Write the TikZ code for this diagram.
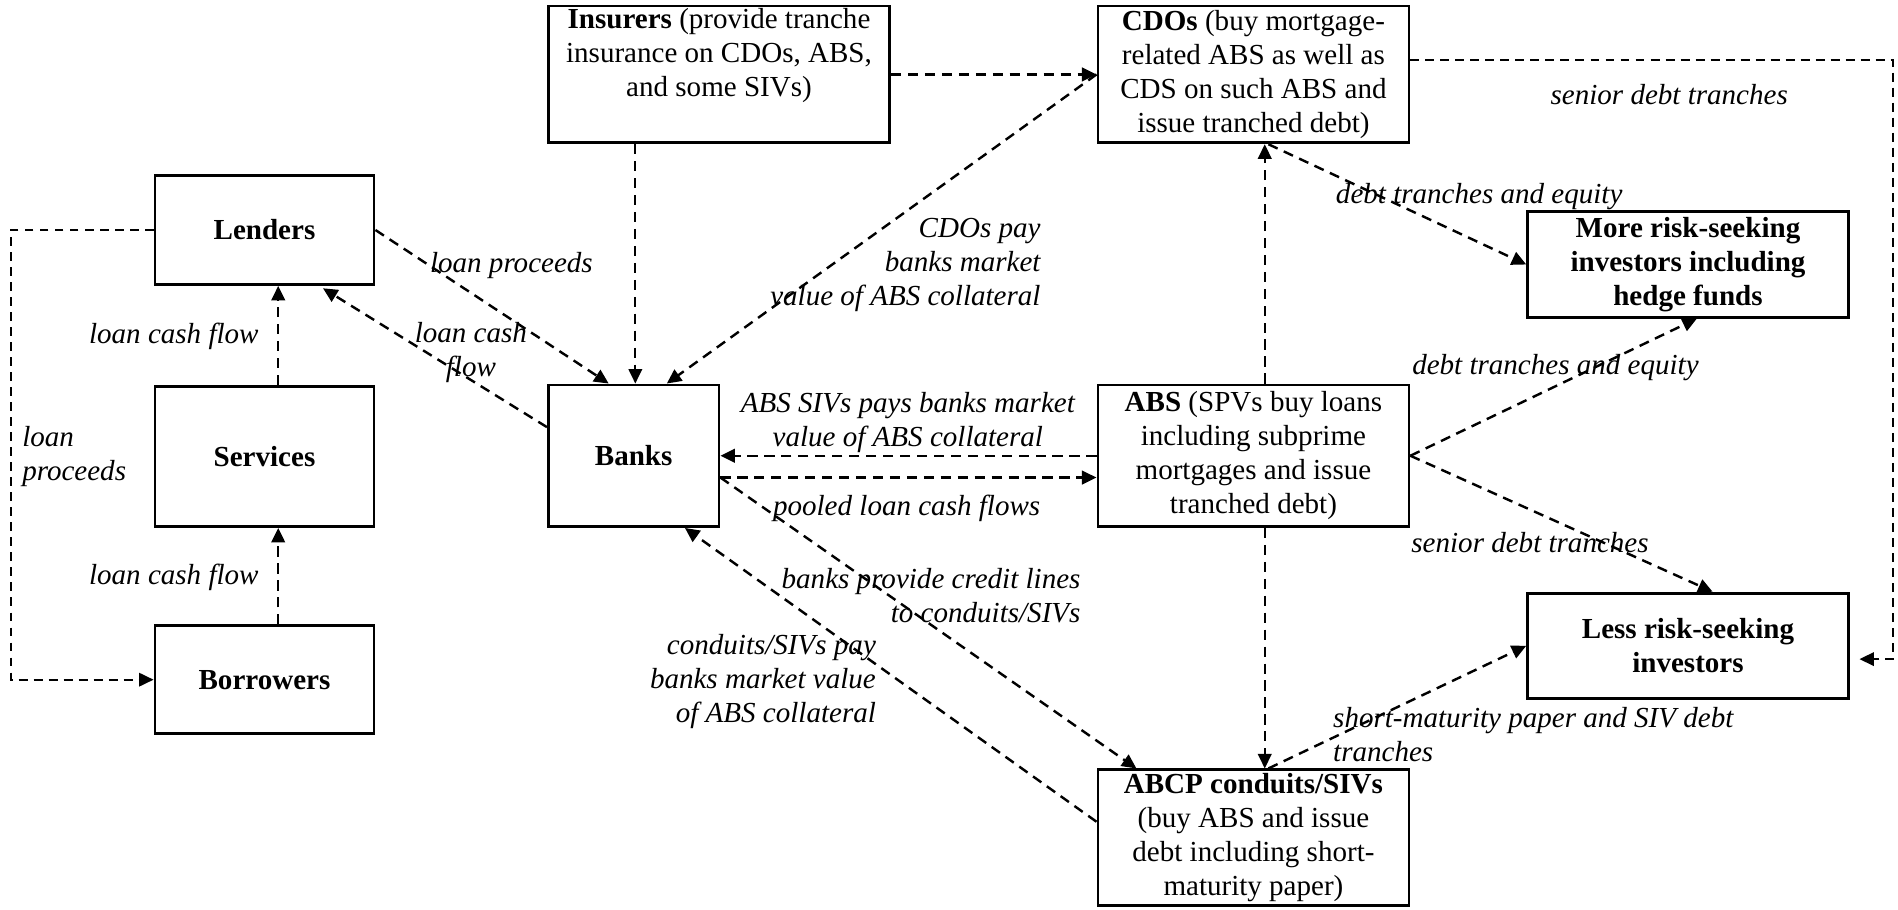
\documentclass[tikz,border=0pt]{standalone}
\usepackage{fontspec}
\setmainfont{Liberation Serif}
\usetikzlibrary{arrows.meta,calc}
\begin{document}
\begin{tikzpicture}[x=0.5pt,y=-0.5pt,
  boxnode/.style={draw, line width=1.15pt, inner sep=0pt, align=center, font=\fontsize{12}{14}\selectfont},
  labnode/.style={inner sep=0pt, font=\fontsize{12}{14}\selectfont\itshape},
  thk/.style={line width=1pt, dash pattern=on 4.2pt off 2.8pt, -{Triangle[length=6pt,width=5.6pt]}},
  thn/.style={line width=0.8pt, dash pattern=on 4.2pt off 2.8pt, -{Triangle[length=6pt,width=5.6pt]}},
  loopline/.style={line width=0.75pt, dash pattern=on 3.7pt off 2.5pt, -{Triangle[length=6pt,width=5.6pt]}}]
\useasboundingbox (0,0) rectangle (1568,751);

% boxes
\node[boxnode, minimum width=90.5pt, minimum height=45pt] (len) at (218.5,190) {\textbf{Lenders}};
\node[boxnode, minimum width=90.5pt, minimum height=58pt] (ser) at (218.5,377) {\textbf{Services}};
\node[boxnode, minimum width=90.5pt, minimum height=44.5pt] (bor) at (218.5,561.5) {\textbf{Borrowers}};
\node[boxnode, minimum width=141pt, minimum height=56.5pt] (ins) at (594,61.5) {\textbf{Insurers} (provide tranche\\insurance on CDOs, ABS,\\and some SIVs)\\\strut};
\node[boxnode, minimum width=128.5pt, minimum height=56.5pt] (cdo) at (1035.5,61.5) {\textbf{CDOs} (buy mortgage-\\related ABS as well as\\CDS on such ABS and\\issue tranched debt)};
\node[boxnode, minimum width=70.5pt, minimum height=58.5pt] (ban) at (523.5,376.5) {\textbf{Banks}};
\node[boxnode, minimum width=128.5pt, minimum height=58.5pt] (abs) at (1035.5,376.5) {\textbf{ABS} (SPVs buy loans\\including subprime\\mortgages and issue\\tranched debt)};
\node[boxnode, minimum width=132.5pt, minimum height=43.5pt] (mor) at (1394.5,218.5) {\textbf{More risk-seeking}\\\textbf{investors including}\\\textbf{hedge funds}};
\node[boxnode, minimum width=132.5pt, minimum height=43.5pt] (les) at (1394.5,533.5) {\textbf{Less risk-seeking}\\\textbf{investors}};
\node[boxnode, minimum width=128.5pt, minimum height=56pt] (abc) at (1035.5,692) {\textbf{ABCP conduits/SIVs}\\(buy ABS and issue\\debt including short-\\maturity paper)};

% connectors
\draw[loopline] (len.west) -- ++(-118,0) |- (bor.west);
\draw[thk] ($(ser.north west)+(103,0)$) -- ($(len.south west)+(103,0)$);
\draw[thk] ($(bor.north west)+(103,0)$) -- ($(ser.south west)+(103,0)$);
\draw[thk] (len.east) -- ($(ban.north west)+(51,0)$);
\draw[thk] ($(ban.north west)+(0,36)$) -- ($(len.south west)+(140,2)$);
\draw[thn] ($(ins.south west)+(73,0)$) -- ($(ban.north west)+(73,0)$);
\draw[thk] (cdo.west) -- ($(ban.north west)+(99,0)$);
\draw[thk] (ins.east) -- (cdo.west);
\draw[thk] (abs.west) -- (ban.east);
\draw[thk] ($(ban.east)+(0,18)$) -- ($(abs.west)+(0,18)$);
\draw[thk] ($(ban.east)+(0,18)$) -- ($(abc.north west)+(33,0)$);
\draw[thk] ($(abc.north west)+(0,44)$) -- ($(ban.south west)+(114,0)$);
\draw[thn] ($(abs.north west)+(139,0)$) -- ($(cdo.south west)+(139,0)$);
\draw[thk] ($(cdo.south west)+(142,0)$) -- (mor.west);
\draw[thk] (abs.east) -- ($(mor.south west)+(141,0)$);
\draw[thk] (abs.east) -- ($(les.north west)+(154,0)$);
\draw[thn] ($(abs.south west)+(139,0)$) -- ($(abc.north west)+(139,0)$);
\draw[thk] ($(abc.north west)+(142,0)$) -- (les.west);
\draw[loopline] ($(cdo.north east)+(0,46)$) -- ++(399,0) |- ($(les.east)+(8,11)$);

% labels
\node[labnode, anchor=west, align=left] (l1) at (18,377) {loan\\proceeds};
\node[labnode, anchor=east] (l2) at (214,278) {loan cash flow};
\node[labnode, anchor=east] (l3) at (214,477) {loan cash flow};
\node[labnode] (l4) at (422.5,219) {loan proceeds};
\node[labnode, align=center] (l5) at (389,291) {loan cash\\flow};
\node[labnode, anchor=east, align=right] (l6) at (860,219) {CDOs pay\\banks market\\value of ABS collateral};
\node[labnode, align=center] (l7) at (750,349) {ABS SIVs pays banks market\\value of ABS collateral};
\node[labnode] (l8) at (749,420) {pooled loan cash flows};
\node[labnode, anchor=east, align=right] (l9) at (893,492) {banks provide credit lines\\to conduits/SIVs};
\node[labnode, anchor=east, align=right] (l10) at (724,563) {conduits/SIVs pay\\banks market value\\of ABS collateral};
\node[labnode] (l11) at (1222,162) {debt tranches and equity};
\node[labnode] (l12) at (1285,304) {debt tranches and equity};
\node[labnode] (l13) at (1264,448) {senior debt tranches};
\node[labnode, anchor=west, align=left] (l14) at (1101,607) {short-maturity paper and SIV debt\\tranches};
\node[labnode] (l15) at (1379,78) {senior debt tranches};
\end{tikzpicture}
\end{document}
